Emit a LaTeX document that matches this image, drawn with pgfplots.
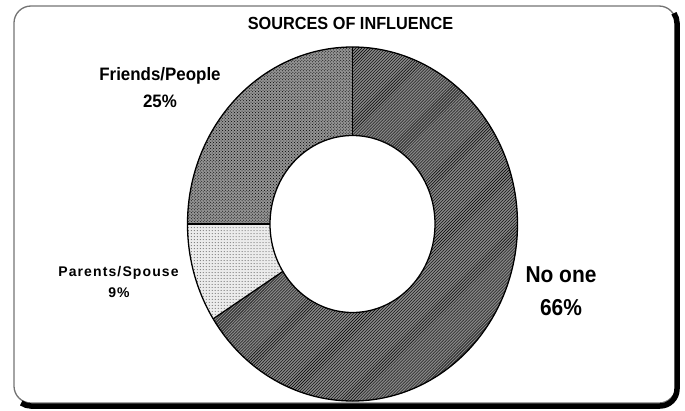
\documentclass[border=0pt]{standalone}
\usepackage{fontspec}
\setmainfont{Liberation Sans}
\usepackage{pgfplots}
\usepackage{pgfplotstable}
\pgfplotsset{compat=1.18}
\usetikzlibrary{patterns}

\pgfplotstableread{
label value
Noone 66
Parents 9
Friends 25
}\sourcedata

\begin{document}
\begin{tikzpicture}
\pgfplotstablegetelem{0}{value}\of\sourcedata \let\vA\pgfplotsretval
\pgfplotstablegetelem{1}{value}\of\sourcedata \let\vB\pgfplotsretval
\pgfplotstablegetelem{2}{value}\of\sourcedata \let\vC\pgfplotsretval
\pgfmathsetmacro{\aA}{90-3.6*\vA}
\pgfmathsetmacro{\aB}{\aA-3.6*\vB}
\pgfmathsetmacro{\aC}{\aB-3.6*\vC}

\begin{axis}[scale only axis,
  width=330bp, height=354bp, xmin=-1, xmax=1, ymin=-1, ymax=1,
  hide axis, clip=false]
% page extent
\path (axis cs:-2.13636,1.26554) rectangle (axis cs:2.01515,-1.05085);
% frame
\draw[black!55, line width=1.3bp, rounded corners=17bp] (axis cs:-2.05152,1.23164) rectangle (axis cs:1.96061,-1.01130);
\draw[black, line width=5.5bp]
  (axis cs:1.94806,1.19068) arc[start angle=35, end angle=0, radius=17bp]
  -- (axis cs:1.96667,-0.93220) arc[start angle=0, end angle=-90, radius=17bp]
  -- (axis cs:-1.94848,-1.02825) arc[start angle=270, end angle=235, radius=17bp];
% No one
\fill[black!48, postaction={pattern=north east lines, pattern color=black}]
  (axis cs:0,0) -- (axis cs:0,1) arc[start angle=90, end angle=\aA, x radius=165bp, y radius=177bp] -- cycle;
% Parents/Spouse
\fill[black!8, postaction={pattern=dots, pattern color=black!70}]
  (axis cs:0,0) -- (axis cs:{cos(\aA)},{sin(\aA)}) arc[start angle=\aA, end angle=\aB, x radius=165bp, y radius=177bp] -- cycle;
% Friends/People
\fill[black!42, postaction={pattern=crosshatch dots, pattern color=black}]
  (axis cs:0,0) -- (axis cs:{cos(\aB)},{sin(\aB)}) arc[start angle=\aB, end angle=\aC, x radius=165bp, y radius=177bp] -- cycle;
% hole
\fill[white] (axis cs:0,0) ellipse[x radius=82.5bp, y radius=88.5bp];
% outlines
\draw[line width=1.3bp] (axis cs:0,0) ellipse[x radius=165bp, y radius=177bp];
\draw[line width=1.3bp] (axis cs:0,0) ellipse[x radius=82.5bp, y radius=88.5bp];
\draw[line width=1.3bp] (axis cs:0,0.5) -- (axis cs:0,1);
\draw[line width=1.3bp] (axis cs:{0.5*cos(\aA)},{0.5*sin(\aA)}) -- (axis cs:{cos(\aA)},{sin(\aA)});
\draw[line width=1.3bp] (axis cs:{0.5*cos(\aB)},{0.5*sin(\aB)}) -- (axis cs:{cos(\aB)},{sin(\aB)});
% labels
\node[anchor=base, inner sep=0pt] at (axis cs:-0.01212,1.1) {\fontsize{17.5bp}{20bp}\selectfont\bfseries\scalebox{0.93}[1]{SOURCES OF INFLUENCE}};
\node[anchor=base, inner sep=0pt] at (axis cs:-1.16667,0.80791) {\fontsize{18bp}{20bp}\selectfont\bfseries\scalebox{0.94}[1]{Friends/People}};
\node[anchor=base, inner sep=0pt] at (axis cs:-1.16667,0.65537) {\fontsize{18bp}{20bp}\selectfont\bfseries\scalebox{0.94}[1]{25\%}};
\node[anchor=base, inner sep=0pt] at (axis cs:1.26364,-0.32768) {\fontsize{23bp}{26bp}\selectfont\bfseries\scalebox{0.91}[1]{No one}};
\node[anchor=base, inner sep=0pt] at (axis cs:1.26364,-0.51412) {\fontsize{23bp}{26bp}\selectfont\bfseries\scalebox{0.91}[1]{66\%}};
\node[anchor=base, inner sep=0pt] at (axis cs:-1.41818,-0.29774) {\fontsize{14bp}{16bp}\selectfont\bfseries\addfontfeature{LetterSpace=8}Parents/Spouse};
\node[anchor=base, inner sep=0pt] at (axis cs:-1.41515,-0.41243) {\fontsize{14bp}{16bp}\selectfont\bfseries\addfontfeature{LetterSpace=8}9\%};
\end{axis}
\end{tikzpicture}
\end{document}
